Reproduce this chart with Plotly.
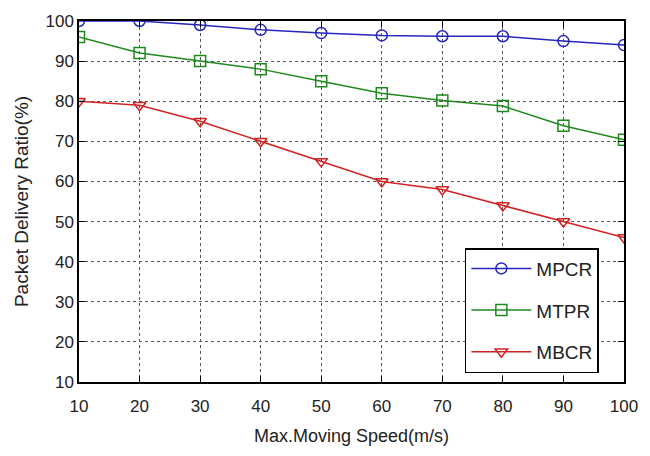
import plotly.graph_objects as go

speed = [10, 20, 30, 40, 50, 60, 70, 80, 90, 100]
mpcr = [100, 100, 99, 97.8, 97, 96.4, 96.2, 96.2, 95, 94]
mtpr = [96, 92, 90, 88, 85, 82, 80.2, 78.8, 73.9, 70.4]
mbcr = [80, 79, 75, 70, 65, 60, 58, 54, 50, 46]

series = [
    ("MPCR", mpcr, "#2626bc", "circle-open"),
    ("MTPR", mtpr, "#1e8a1e", "square-open"),
    ("MBCR", mbcr, "#d02424", "triangle-down-open"),
]

fig = go.Figure()
for name, vals, col, sym in series:
    fig.add_trace(go.Scatter(
        x=speed, y=vals, name=name, legendgroup=name, mode="lines+markers",
        line=dict(color=col, width=1.5),
        marker=dict(symbol=sym, size=11, color=col, line=dict(width=1.5, color=col)),
    ))

font_fam = "Liberation Sans, Arial, sans-serif"
axis_common = dict(
    showline=True, linecolor="black", linewidth=1.5, mirror="ticks",
    ticks="inside", ticklen=6, tickcolor="black",
    showgrid=True, gridcolor="#555", griddash="dot", gridwidth=1,
    zeroline=False,
    tickfont=dict(family=font_fam, size=17, color="#222"),
)
fig.update_xaxes(range=[10, 100], tickvals=speed, **axis_common, ticklabelstandoff=8,
                 title=dict(text="Max.Moving Speed(m/s)", font=dict(family=font_fam, size=18, color="#222"), standoff=14))
fig.update_yaxes(range=[10, 100], tickvals=list(range(10, 101, 10)), **axis_common,
                 title=dict(text="Packet Delivery Ratio(%)", font=dict(family=font_fam, size=19, color="#222"), standoff=12))

fig.update_layout(
    width=650, height=456,
    margin=dict(l=79, r=23, t=21, b=74),
    plot_bgcolor="white", paper_bgcolor="white",
    legend=dict(x=0.708, y=0.371, xanchor="left", yanchor="top",
                bordercolor="black", borderwidth=1.5, bgcolor="white",
                font=dict(family=font_fam, size=19, color="#222"),
                itemwidth=60, tracegroupgap=14),
    showlegend=True,
)

fig.write_html("out.html")
